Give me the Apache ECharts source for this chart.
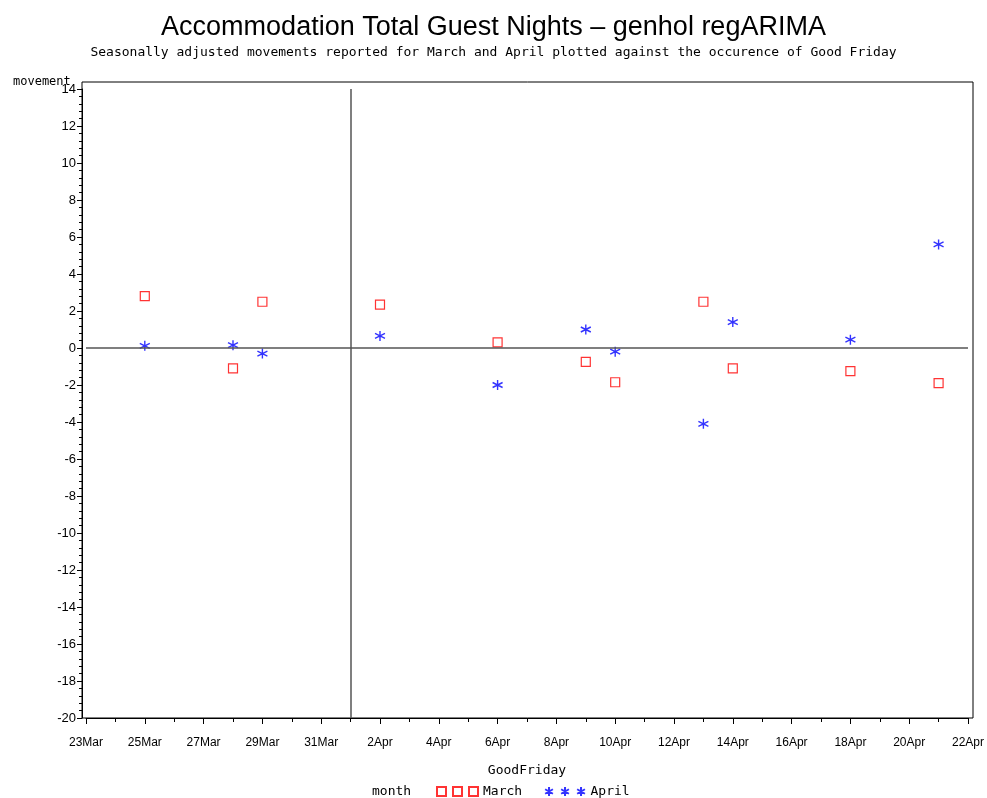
<!DOCTYPE html>
<html>
<head>
<meta charset="utf-8">
<title>Accommodation Total Guest Nights - genhol regARIMA</title>
<script src="https://cdn.jsdelivr.net/npm/echarts@6/dist/echarts.min.js"></script>
<style>
  html, body { margin: 0; padding: 0; background: #fff; }
  #chart { width: 987px; height: 798px; }
</style>
</head>
<body>
<div id="chart"></div>
<script>
  // tick labels, one per day (value 0 = 23Mar)
  const dayLabels = ['23Mar', '24Mar', '25Mar', '26Mar', '27Mar', '28Mar', '29Mar', '30Mar', '31Mar',
    '1Apr', '2Apr', '3Apr', '4Apr', '5Apr', '6Apr', '7Apr', '8Apr', '9Apr', '10Apr', '11Apr',
    '12Apr', '13Apr', '14Apr', '15Apr', '16Apr', '17Apr', '18Apr', '19Apr', '20Apr', '21Apr', '22Apr']
  // date of Good Friday for each year
  const goodFriday = ['25Mar', '28Mar', '29Mar', '2Apr', '6Apr', '9Apr', '10Apr', '13Apr', '14Apr', '18Apr', '21Apr']
  const marchMovement = [2.8, -1.1, 2.5, 2.35, 0.3, -0.75, -1.85, 2.5, -1.1, -1.25, -1.9]
  const aprilMovement = [0.12, 0.15, -0.3, 0.65, -2.0, 1.0, -0.2, -4.1, 1.4, 0.45, 5.6]
  const refDate = '1Apr'

  const monoFont = '"DejaVu Sans Mono", monospace'
  const starPath = 'path://M5,0L5,10M0.7,2.5L9.3,7.5M0.7,7.5L9.3,2.5'
  const threeSquares = 'path://M0,0H9V9H0ZM16,0H25V9H16ZM32,0H41V9H32Z'
  const threeStars = 'path://M4.5,0V9M0.6,2.25L8.4,6.75M0.6,6.75L8.4,2.25' +
    'M20.5,0V9M16.6,2.25L24.4,6.75M16.6,6.75L24.4,2.25' +
    'M36.5,0V9M32.6,2.25L40.4,6.75M32.6,6.75L40.4,2.25'

  function toXY(values) {
    return values.map((v, i) => [dayLabels.indexOf(goodFriday[i]), v])
  }

  const chart = echarts.init(document.getElementById('chart'))
  chart.setOption({
    animation: false,
    title: [
      {
        text: 'Accommodation Total Guest Nights – genhol regARIMA',
        left: 'center',
        top: 9,
        textStyle: {
          fontFamily: '"Liberation Sans Narrow", "Arial Narrow", Arial, sans-serif',
          fontWeight: 'normal',
          fontSize: 27,
          color: '#000'
        }
      },
      {
        text: 'Seasonally adjusted movements reported for March and April plotted against the occurence of Good Friday',
        left: 'center',
        top: 41,
        textStyle: { fontFamily: monoFont, fontWeight: 'normal', fontSize: 13, color: '#000' }
      },
      {
        text: 'movement',
        left: 8,
        top: 71,
        textStyle: { fontFamily: monoFont, fontWeight: 'normal', fontSize: 12, color: '#000' }
      },
      {
        text: 'month',
        left: 367,
        top: 780,
        textStyle: { fontFamily: monoFont, fontWeight: 'normal', fontSize: 13, color: '#000' }
      }
    ],
    legend: {
      left: 431,
      top: 780,
      itemWidth: 41,
      itemHeight: 9,
      itemGap: 22,
      textStyle: { fontFamily: monoFont, fontSize: 13, color: '#000' },
      data: [
        { name: 'March', icon: threeSquares },
        { name: 'April', icon: threeStars }
      ]
    },
    grid: [
      // outer frame
      { left: 82, top: 82, width: 891, height: 636, show: true, borderColor: '#000', borderWidth: 1, backgroundColor: 'transparent' },
      // plotting area
      { left: 86, top: 89, width: 883, height: 629 }
    ],
    xAxis: [
      { gridIndex: 0, type: 'value', min: 0, max: 1, show: false },
      {
        gridIndex: 1,
        type: 'value',
        min: 0,
        max: 30,
        interval: 2,
        name: 'GoodFriday',
        nameLocation: 'middle',
        nameGap: 46,
        nameTextStyle: { fontFamily: monoFont, fontSize: 13, color: '#000' },
        axisLine: { show: true, onZero: false, lineStyle: { color: '#000', width: 1 } },
        axisTick: { show: true, length: 6, lineStyle: { color: '#000' } },
        minorTick: { show: true, splitNumber: 2, length: 4, lineStyle: { color: '#000' } },
        splitLine: { show: false },
        axisLabel: {
          margin: 19,
          color: '#000',
          fontFamily: 'Arial, "Liberation Sans", sans-serif',
          fontSize: 12,
          formatter: v => dayLabels[v]
        }
      }
    ],
    yAxis: [
      { gridIndex: 0, type: 'value', min: 0, max: 1, show: false },
      {
        gridIndex: 1,
        type: 'value',
        min: -20,
        max: 14,
        interval: 2,
        offset: 4,
        axisLine: { show: true, onZero: false, lineStyle: { color: '#000', width: 1 } },
        axisTick: { show: true, length: 5, lineStyle: { color: '#000' } },
        minorTick: { show: true, splitNumber: 5, length: 3, lineStyle: { color: '#000' } },
        splitLine: { show: false },
        axisLabel: {
          margin: 6,
          color: '#000',
          fontFamily: 'Arial, "Liberation Sans", sans-serif',
          fontSize: 13
        }
      }
    ],
    series: [
      {
        name: 'March',
        type: 'scatter',
        xAxisIndex: 1,
        yAxisIndex: 1,
        symbol: 'rect',
        symbolSize: 9,
        itemStyle: { color: 'rgba(255,255,255,0)', borderColor: '#ff0000', borderWidth: 1.2 },
        data: toXY(marchMovement),
        markLine: {
          silent: true,
          symbol: 'none',
          label: { show: false },
          lineStyle: { color: '#555', width: 1.5, type: 'solid' },
          data: [
            { xAxis: dayLabels.indexOf(refDate) },
            { yAxis: 0 }
          ]
        }
      },
      {
        name: 'April',
        type: 'scatter',
        xAxisIndex: 1,
        yAxisIndex: 1,
        symbol: starPath,
        symbolSize: 10,
        itemStyle: { color: 'rgba(255,255,255,0)', borderColor: '#0000ff', borderWidth: 1.4 },
        data: toXY(aprilMovement)
      }
    ]
  })
</script>
</body>
</html>
